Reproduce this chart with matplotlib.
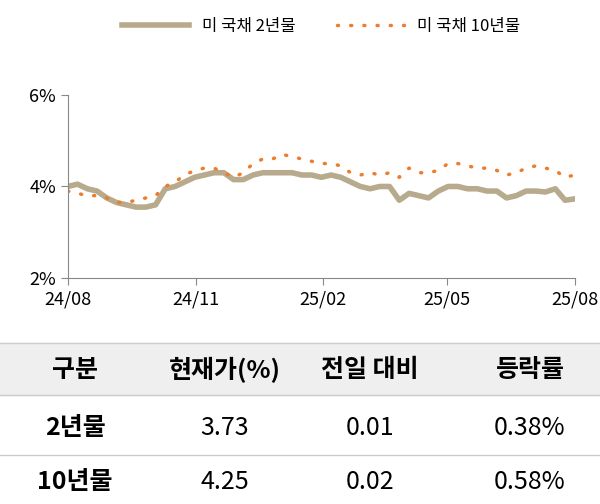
import numpy as np
import pandas as pd
import matplotlib.pyplot as plt
import matplotlib.dates as mdates
from matplotlib.patches import Rectangle

plt.rcParams["font.family"] = ["Noto Sans CJK JP", "Noto Sans CJK KR", "Noto Sans CJK SC",
                               "Noto Sans CJK TC", "DejaVu Sans"]

# weekly yields, Aug 2024 - Aug 2025 (%)
y2 = [4.0, 4.05, 3.95, 3.9,
      3.75, 3.65, 3.6, 3.55, 3.55,
      3.6, 3.95, 4.0, 4.1,
      4.2, 4.25, 4.3, 4.3,
      4.15, 4.15, 4.25, 4.3, 4.3,
      4.3, 4.3, 4.25, 4.25,
      4.2, 4.25, 4.2, 4.1,
      4.0, 3.95, 4.0, 4.0,
      3.7, 3.85, 3.8, 3.75,
      3.9, 4.0, 4.0, 3.95,
      3.95, 3.9, 3.9, 3.75,
      3.8, 3.9, 3.9, 3.88, 3.95,
      3.7, 3.73]
y10 = [3.9, 3.85, 3.8, 3.8,
       3.75, 3.65, 3.65, 3.7, 3.75,
       3.8, 4.0, 4.1, 4.25,
       4.35, 4.4, 4.4, 4.3,
       4.2, 4.3, 4.5, 4.6, 4.6,
       4.7, 4.65, 4.6, 4.55,
       4.5, 4.5, 4.45, 4.3,
       4.25, 4.3, 4.25, 4.3,
       4.2, 4.4, 4.3, 4.3,
       4.35, 4.5, 4.5, 4.45,
       4.4, 4.4, 4.35, 4.25,
       4.3, 4.4, 4.45, 4.4, 4.35,
       4.2, 4.25]
dates = pd.date_range("2024-08-01", "2025-08-01", periods=len(y2))

header = ["구분", "현재가(%)", "전일 대비", "등락률"]
rows = [["2년물", "3.73", "0.01", "0.38%"],
        ["10년물", "4.25", "0.02", "0.58%"]]

fig = plt.figure(figsize=(6, 5.04), dpi=100)
ax = fig.add_axes([0.113, 0.448, 0.845, 0.364])
ax.plot(dates, y2, color="#b8aa8c", lw=4, label="미 국채 2년물")
ax.plot(dates, y10, color="#ee7d2b", lw=2.5, ls=(0, (0.3, 3.5)),
        dash_capstyle="round", label="미 국채 10년물")
ax.set_ylim(2, 6)
ax.set_yticks([2, 4, 6])
ax.set_yticklabels(["2%", "4%", "6%"])
ax.set_xlim(pd.Timestamp("2024-08-01"), pd.Timestamp("2025-08-01"))
ax.xaxis.set_major_locator(mdates.MonthLocator(bymonth=[2, 5, 8, 11]))
ax.xaxis.set_major_formatter(mdates.DateFormatter("%y/%m"))
for s in ["top", "right"]:
    ax.spines[s].set_visible(False)
for s in ["left", "bottom"]:
    ax.spines[s].set_color("#888888")
ax.tick_params(colors="#888888", labelcolor="black", labelsize=13, length=5)
ax.legend(loc="upper center", bbox_to_anchor=(0.5, 1.5), ncol=2, frameon=False,
          fontsize=12, handlelength=4, columnspacing=2.5)

# table
fig.patches.append(Rectangle((0, 1 - 395 / 504), 1, 52 / 504, transform=fig.transFigure,
                             color="#efefef", zorder=0))
for yl in [343, 395, 455]:
    fig.add_artist(plt.Line2D([0, 1], [1 - yl / 504] * 2, color="#cccccc", lw=1))
xs = [75 / 600, 225 / 600, 370 / 600, 530 / 600]
for x, h in zip(xs, header):
    fig.text(x, 1 - 370 / 504, h, ha="center", va="center", fontsize=18, fontweight="bold")
for r, yy in zip(rows, [428, 482]):
    for i, (x, v) in enumerate(zip(xs, r)):
        fig.text(x, 1 - yy / 504, v, ha="center", va="center", fontsize=18,
                 fontweight="bold" if i == 0 else "normal")

fig.savefig("out.png")
